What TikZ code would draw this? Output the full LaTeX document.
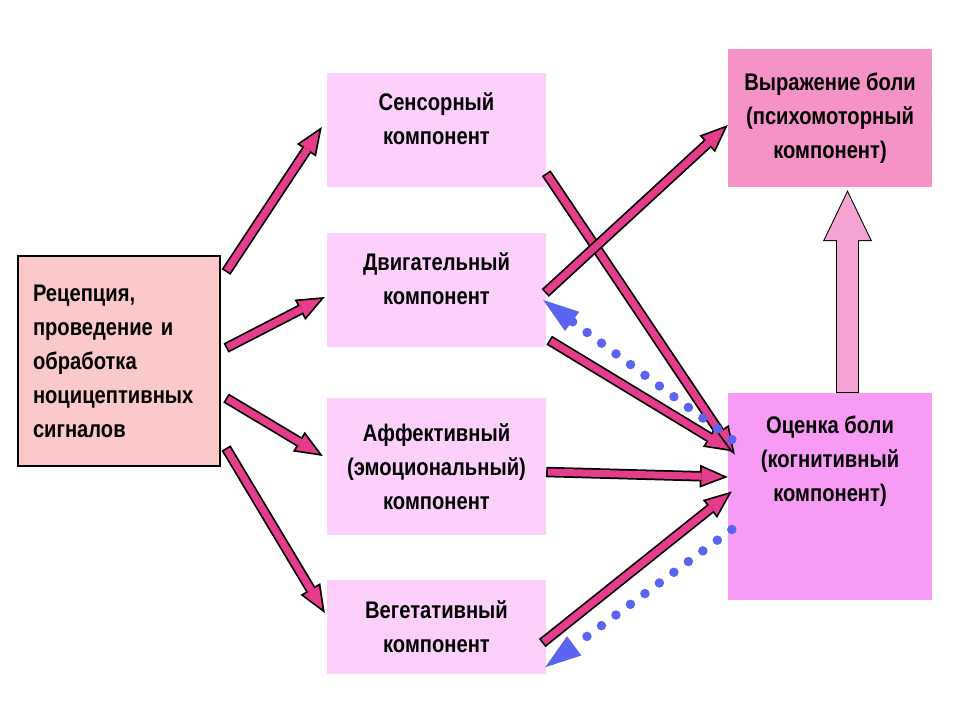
\documentclass[tikz,border=0pt]{standalone}
\usepackage{fontspec}
\setmainfont{Liberation Sans}[FakeStretch=0.84]
\usetikzlibrary{arrows.meta,calc}

\definecolor{recepcol}{HTML}{FBC9C9}
\definecolor{compcol}{HTML}{FCD0FB}
\definecolor{exprcol}{HTML}{F592C6}
\definecolor{evalcol}{HTML}{F79BF5}
\definecolor{arrowpink}{HTML}{E63C8C}
\definecolor{uppink}{HTML}{F4A3D3}
\definecolor{dotblue}{HTML}{5A64F0}

\begin{document}
\begin{tikzpicture}[x=1pt,y=-1pt,
  box/.style={fill=compcol,minimum width=219pt,inner sep=0pt,align=center,font=\fontsize{24}{34}\selectfont\bfseries},
  fat/.style={line width=10.5pt,draw=black,-{Triangle[length=28pt,width=23pt,line width=0pt]},
    postaction={draw=arrowpink,line width=7pt,shorten >=4.6pt,shorten <=1.7pt,-{Triangle[length=21.6pt,width=17.8pt,line width=0pt]}}},
  dots/.style={draw=dotblue,line width=9.5pt,line cap=round,dash pattern=on 0pt off 18pt,-{Triangle[length=36pt,width=24pt,line width=0pt]}},
  up/.style={line width=23pt,draw=black,-{Triangle[length=51pt,width=49pt,line width=0pt]},
    postaction={draw=uppink,line width=21pt,shorten >=2.3pt,shorten <=1pt,-{Triangle[length=47.7pt,width=45.8pt,line width=0pt]}}}]

\useasboundingbox (0,0) rectangle (960,720);

\node[box,fill=recepcol,draw=black,line width=2pt,minimum width=202pt,minimum height=210pt,align=left,text width=172pt] (recep) at (119,361) {Рецепция,\\ проведение и\\ обработка\\ ноцицептивных\\ сигналов};

\node[box,minimum height=114pt,text depth=22pt] (sens) at (436.5,130) {Сенсорный\\ компонент};
\node[box,minimum height=114pt,text depth=22pt] (motor) at (436.5,290) {Двигательный\\ компонент};
\node[box,minimum height=137pt] (affect) at (436.5,466.5) {Аффективный\\ (эмоциональный)\\ компонент};
\node[box,minimum height=94pt] (veg) at (436.5,627) {Вегетативный\\ компонент};

\node[box,fill=exprcol,minimum width=204pt,minimum height=138pt] (expr) at (830,118) {Выражение боли\\ (психомоторный\\ компонент)};
\node[box,fill=evalcol,minimum width=204pt,minimum height=207pt,text depth=76pt] (eval) at (830,496.5) {Оценка боли\\ (когнитивный\\ компонент)};

% from reception
\draw[fat] ($(recep.north east)+(5,17)$) -- ($(sens.west)+(-5,-3)$);
\draw[fat] ($(recep.east)+(5,-13)$) -- ($(motor.west)+(-2,7)$);
\draw[fat] ($(recep.east)+(5,37)$) -- ($(affect.west)+(-4,-10.5)$);
\draw[fat] ($(recep.south east)+(5,-19)$) -- ($(veg.west)+(-2,-14)$);

% to the right column
\draw[fat] ($(sens.south east)+(0,-14)$) -- ($(eval.west)+(7,-42)$);
\draw[fat] ($(motor.east)+(-1,3)$) -- ($(expr.west)+(0,7)$);
\draw[fat] ($(motor.south east)+(3,-7)$) -- ($(eval.west)+(5,-45)$);
\draw[fat] ($(affect.east)+(0,5.5)$) -- ($(eval.west)+(0,-19.5)$);
\draw[fat] ($(veg.east)+(-4,16)$) -- ($(eval.west)+(4,-5)$);

% feedback
\draw[dots] ($(eval.west)+(4,-57)$) -- ($(motor.east)+(-3,10)$);
\draw[dots] ($(eval.west)+(4,33)$) -- ($(veg.south east)+(-1,-7)$);

\draw[up] ($(eval.north)+(17.5,0)$) -- ($(expr.south)+(17.5,3)$);

\end{tikzpicture}
\end{document}
